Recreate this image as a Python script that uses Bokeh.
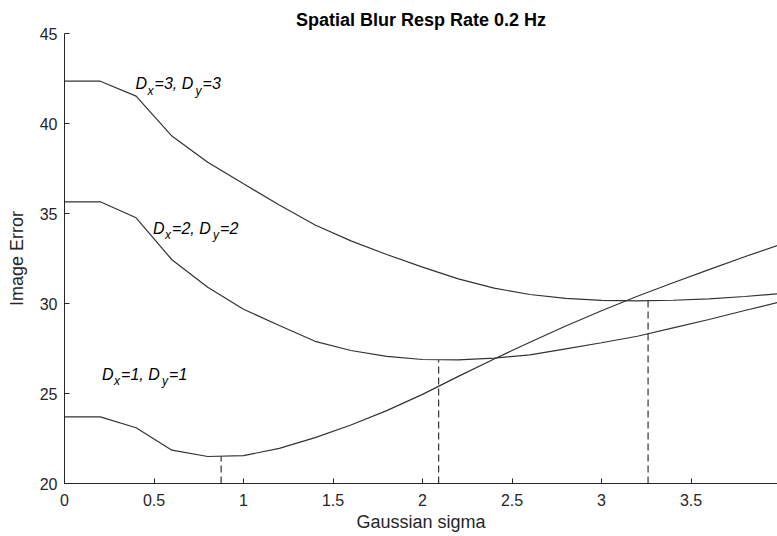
from bokeh.plotting import figure
from bokeh.models import ColumnDataSource, FixedTicker, Range1d
from bokeh.embed import file_html
from bokeh.resources import INLINE
from bokeh.core.properties import value

# ---------------- data ----------------
sigma = [0.0, 0.2, 0.4, 0.6, 0.8, 1.0, 1.2, 1.4, 1.6, 1.8, 2.0,
         2.2, 2.4, 2.6, 2.8, 3.0, 3.2, 3.4, 3.6, 3.8, 4.0]
err_d1 = [23.7, 23.7, 23.1, 21.85, 21.5, 21.55, 21.95, 22.55, 23.25, 24.05, 24.95,
          25.95, 26.92, 27.85, 28.75, 29.6, 30.4, 31.15, 31.88, 32.6, 33.28]
err_d2 = [35.65, 35.65, 34.76, 32.43, 30.9, 29.68, 28.78, 27.9, 27.39, 27.06, 26.89,
          26.87, 26.96, 27.15, 27.48, 27.82, 28.18, 28.65, 29.11, 29.61, 30.1]
err_d3 = [42.35, 42.35, 41.52, 39.3, 37.85, 36.65, 35.47, 34.36, 33.48, 32.72, 32.02,
          31.37, 30.85, 30.5, 30.28, 30.17, 30.15, 30.18, 30.26, 30.39, 30.55]

min_sigma = [0.875, 2.09, 3.26]
min_err = [21.5, 26.87, 30.15]

label_d = [3, 2, 1]
label_x = [0.397, 0.495, 0.21]
label_y = [42.2, 34.18, 26.06]

x_ticks = [0, 0.5, 1, 1.5, 2, 2.5, 3, 3.5, 4]
x_tick_labels = ["0", "0.5", "1", "1.5", "2", "2.5", "3", "3.5", "4"]
y_ticks = [20, 25, 30, 35, 40, 45]
y_tick_labels = ["20", "25", "30", "35", "40", "45"]

title_text = "Spatial Blur Resp Rate 0.2 Hz"
x_label = "Gaussian sigma"
y_label = "Image Error"

# ---------------- style ----------------
FONT = "Liberation Sans"
AX_COL = "#262626"
LINE_COL = "#333333"

p = figure(width=777, height=536, output_backend="svg", toolbar_location=None,
           x_range=Range1d(0, 3.983), y_range=Range1d(20, 45),
           min_border_left=64, min_border_right=0, min_border_top=33,
           min_border_bottom=53)
p.outline_line_color = None
p.xgrid.visible = False
p.ygrid.visible = False
p.background_fill_color = "white"
p.border_fill_color = "white"

p.title.text = title_text
p.title.align = "center"
p.title.text_font = FONT
p.title.text_font_size = "18px"
p.title.text_font_style = "bold"
p.title.text_color = "black"
p.title.standoff = 7

def keyed(t):
    return int(t) if float(t).is_integer() else t

for ax, ticks, labels, lab in ((p.xaxis[0], x_ticks, x_tick_labels, x_label),
                               (p.yaxis[0], y_ticks, y_tick_labels, y_label)):
    ax.ticker = FixedTicker(ticks=ticks)
    ax.major_label_overrides = {keyed(t): s for t, s in zip(ticks, labels)}
    ax.minor_tick_line_color = None
    ax.major_tick_in = 5
    ax.major_tick_out = 0
    ax.axis_line_color = AX_COL
    ax.major_tick_line_color = AX_COL
    ax.major_label_text_color = AX_COL
    ax.major_label_text_font = FONT
    ax.major_label_text_font_size = "16px"
    ax.axis_label = lab
    ax.axis_label_text_font = FONT
    ax.axis_label_text_font_size = "18px"
    ax.axis_label_text_font_style = "normal"
    ax.axis_label_text_color = AX_COL

p.xaxis.major_label_standoff = 10
p.xaxis.axis_label_standoff = 3
p.yaxis.major_label_standoff = 7
p.yaxis.axis_label_standoff = 10

# curves
for ys in (err_d1, err_d2, err_d3):
    p.line(sigma, ys, line_color=LINE_COL, line_width=1.2)

# dashed minimum markers
p.segment(x0=min_sigma, y0=[20] * len(min_sigma), x1=min_sigma, y1=min_err,
          line_color=LINE_COL, line_width=1.2, line_dash="7 4")

# curve labels: D_x=n, D_y=n built from pieces
tx, ty, tt, xo, yo, fs = [], [], [], [], [], []
for d, lx, ly in zip(label_d, label_x, label_y):
    pieces = [("D", 0, 0, "16px"), ("x", 12, 7, "12px"), ("=%d, D" % d, 19, 0, "16px"),
              ("y", 60, 7, "12px"), ("=%d" % d, 67, 0, "16px")]
    for s, ox, oy, f in pieces:
        tx.append(lx); ty.append(ly); tt.append(s)
        xo.append(ox); yo.append(oy); fs.append(f)

src = ColumnDataSource(dict(x=tx, y=ty, text=tt, xo=xo, yo=yo, fs=fs))
p.text(x="x", y="y", text="text", x_offset="xo", y_offset="yo", text_font_size="fs",
       source=src, text_font=value(FONT), text_font_style="italic",
       text_color="black", text_baseline="alphabetic", text_align="left")

open("out.html", "w").write(file_html(p, INLINE))
